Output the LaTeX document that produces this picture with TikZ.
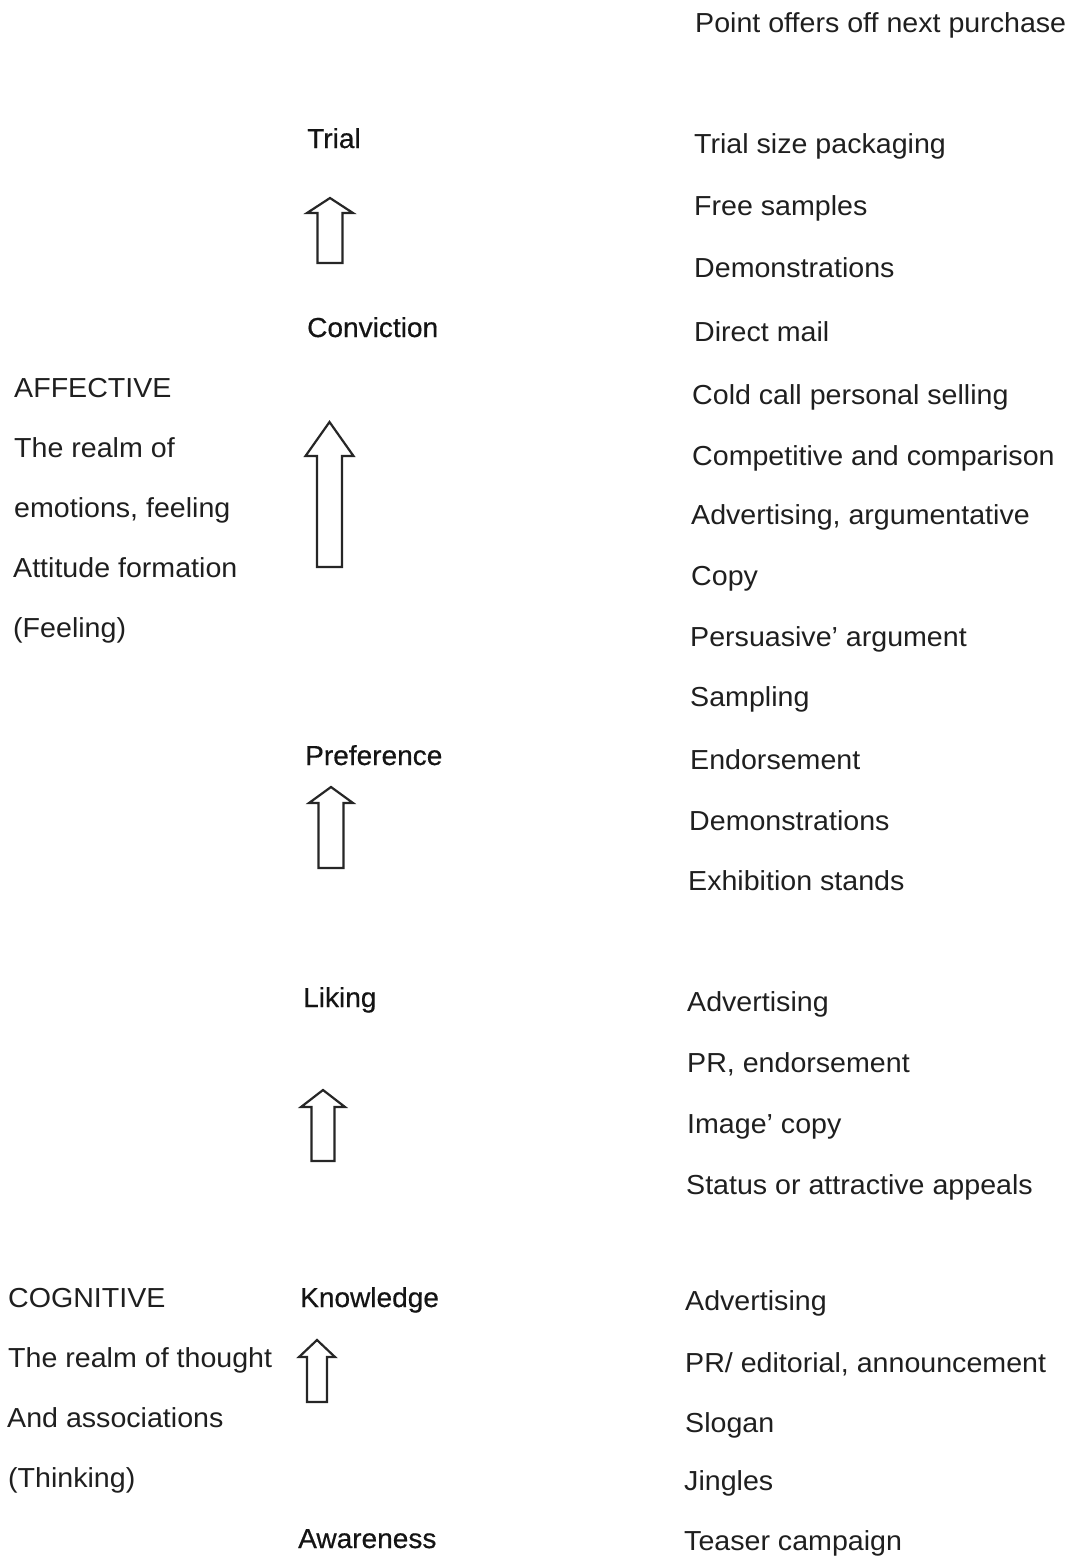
\documentclass[tikz,border=0pt]{standalone}
\usepackage{fontspec}
\setmainfont[FakeStretch=1.04]{Liberation Sans}
\newfontfamily\stagefont[FakeStretch=1.02,FakeBold=0.5]{Liberation Sans}
\begin{document}
\begin{tikzpicture}[x=1pt,y=-1pt,
  txt/.style={anchor=base west,inner sep=0pt,text=black!88,font=\fontsize{27.5}{30}\selectfont},
  stage/.style={txt,font=\fontsize{27.5}{30}\selectfont\stagefont,text=black!92},
  blockarrow/.style={draw=black!85,line width=2.2pt,line join=miter,fill=white}]
\useasboundingbox (0,0) rectangle (1070,1564);
% left column
\node[txt] (aff)   at (14,397) {AFFECTIVE};
\node[txt] (aff1)  at (14,457) {The realm of};
\node[txt] (aff2)  at (14,517) {emotions, feeling};
\node[txt] (aff3)  at (13,577) {Attitude formation};
\node[txt] (aff4)  at (13,637) {(Feeling)};
\node[txt] (cog)   at (8,1307) {COGNITIVE};
\node[txt] (cog1)  at (8,1367) {The realm of thought};
\node[txt] (cog2)  at (7,1427) {And associations};
\node[txt] (cog3)  at (8,1487) {(Thinking)};
% stages
\node[stage] (trial) at (307,148) {Trial};
\node[stage] (conv)  at (307,337) {Conviction};
\node[stage] (pref)  at (305,765) {Preference};
\node[stage] (lik)   at (303,1007) {Liking};
\node[stage] (know)  at (300,1307) {Knowledge};
\node[stage] (awa)   at (298,1548) {Awareness};
% block arrows: cx, tip y, head base y, head half-width, shaft half-width, bottom y
\newcommand\upblockarrow[6]{%
  \draw[blockarrow] (#1,#2) -- (#1+#4,#3) -- (#1+#5,#3) -- (#1+#5,#6)
    -- (#1-#5,#6) -- (#1-#5,#3) -- (#1-#4,#3) -- cycle;}
\upblockarrow{330}{198}{213}{23}{12.5}{263}
\upblockarrow{329.5}{422}{456}{24}{12.5}{567}
\upblockarrow{331}{787}{803}{22}{12.5}{868}
\upblockarrow{323}{1090}{1107}{22}{11.5}{1161}
\upblockarrow{317}{1340}{1357}{18}{10}{1402}
% right column
\node[txt] (r0)  at (695,32)   {Point offers off next purchase};
\node[txt] (r1)  at (694,153)  {Trial size packaging};
\node[txt] (r2)  at (694,215)  {Free samples};
\node[txt] (r3)  at (694,277)  {Demonstrations};
\node[txt] (r4)  at (694,341)  {Direct mail};
\node[txt] (r5)  at (692,404)  {Cold call personal selling};
\node[txt] (r6)  at (692,465)  {Competitive and comparison};
\node[txt] (r7)  at (691,524)  {Advertising, argumentative};
\node[txt] (r8)  at (691,585)  {Copy};
\node[txt] (r9)  at (690,646)  {Persuasive’ argument};
\node[txt] (r10) at (690,706)  {Sampling};
\node[txt] (r11) at (690,769)  {Endorsement};
\node[txt] (r12) at (689,830)  {Demonstrations};
\node[txt] (r13) at (688,890)  {Exhibition stands};
\node[txt] (r14) at (687,1011) {Advertising};
\node[txt] (r15) at (687,1072) {PR, endorsement};
\node[txt] (r16) at (687,1133) {Image’ copy};
\node[txt] (r17) at (686,1194) {Status or attractive appeals};
\node[txt] (r18) at (685,1310) {Advertising};
\node[txt] (r19) at (685,1372) {PR/ editorial, announcement};
\node[txt] (r20) at (685,1432) {Slogan};
\node[txt] (r21) at (684,1490) {Jingles};
\node[txt] (r22) at (684,1550) {Teaser campaign};
\end{tikzpicture}
\end{document}
